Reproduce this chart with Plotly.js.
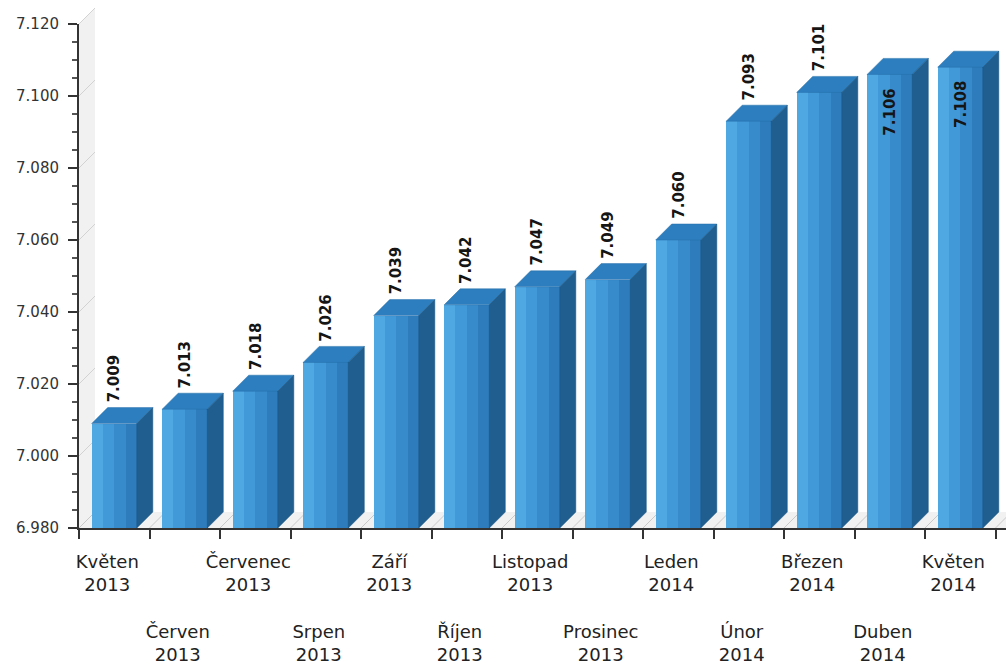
<!DOCTYPE html>
<html>
<head>
<meta charset="utf-8">
<script src="https://cdn.plot.ly/plotly-3.0.1.min.js"></script>
<style>
  html, body { margin: 0; padding: 0; background: #ffffff; }
  #chart { width: 1006px; height: 664px; }
</style>
</head>
<body>
<div id="chart"></div>
<script>
// ---- data ----
const categories = ['Květen 2013', 'Červen 2013', 'Červenec 2013', 'Srpen 2013', 'Září 2013', 'Říjen 2013',
  'Listopad 2013', 'Prosinec 2013', 'Leden 2014', 'Únor 2014', 'Březen 2014', 'Duben 2014', 'Květen 2014'];
const monthNames = ['Květen', 'Červen', 'Červenec', 'Srpen', 'Září', 'Říjen',
  'Listopad', 'Prosinec', 'Leden', 'Únor', 'Březen', 'Duben', 'Květen'];
const yearNames = ['2013', '2013', '2013', '2013', '2013', '2013', '2013', '2013',
  '2014', '2014', '2014', '2014', '2014'];
const values = [7.009, 7.013, 7.018, 7.026, 7.039, 7.042, 7.047, 7.049, 7.060, 7.093, 7.101, 7.106, 7.108];
const yMin = 6.98, yMax = 7.12, yStep = 0.02, yMinorStep = 0.005;

// ---- geometry ----
const W = 1006, H = 664, L = 79, T = 8, B = 136;
const plotW = W - L, plotH = H - T - B;
const catPx = 70.5, depth = 16;
const frontH = plotH - depth;
const pxPerY = frontH / (yMax - yMin);
const dx = depth / catPx, dy = depth / pxPerY;
const barW = 0.64;

const xs = categories.map((_, i) => i);
const tickText = xs.map(i => (i % 2 === 0 ? '' : ' <br> <br> <br>') + monthNames[i] + '<br>' + yearNames[i]);
const boundaries = xs.map(i => i - 0.5).concat([xs.length - 0.5]);

// front face strips (simulated horizontal gradient)
const strips = [
  { off: -barW / 2, color: '#4fa8e2' },
  { off: -barW / 4, color: '#4299d8' },
  { off: 0, color: '#388bcb' },
  { off: barW / 4, color: '#2e7cbc' }
];
const traces = strips.map(s => ({
  type: 'bar', x: xs, y: values, xaxis: 'x2', yaxis: 'y2',
  width: barW / 4 + 0.004, offset: s.off,
  marker: { color: s.color, line: { width: 0 } },
  hoverinfo: 'skip', showlegend: false
}));

// ---- shapes ----
const shapes = [];
const PX = px => (px - L) / plotW;
const PY = py => (H - B - py) / plotH;
const yFront = v => (H - B) - (v - yMin) * pxPerY;

// left wall
shapes.push({
  type: 'path', xref: 'paper', yref: 'paper', layer: 'below',
  path: `M ${PX(L)},${PY(H - B)} L ${PX(L)},${PY(yFront(yMax))} L ${PX(L + depth)},${PY(yFront(yMax) - depth)} L ${PX(L + depth)},${PY(H - B - depth)} Z`,
  fillcolor: '#f1f1f1', line: { width: 0 }
});
// floor
shapes.push({
  type: 'path', xref: 'paper', yref: 'paper', layer: 'below',
  path: `M ${PX(L)},${PY(H - B)} L ${PX(W)},${PY(H - B)} L ${PX(W)},${PY(H - B - depth)} L ${PX(L + depth)},${PY(H - B - depth)} Z`,
  fillcolor: '#f1f1f1', line: { width: 0 }
});
// left wall diagonals
for (let t = yMin; t <= yMax + 1e-9; t += yStep) {
  const py = yFront(t);
  shapes.push({
    type: 'line', xref: 'paper', yref: 'paper', layer: 'below',
    x0: PX(L), y0: PY(py), x1: PX(L + depth), y1: PY(py - depth),
    line: { color: '#d2d2d2', width: 1 }
  });
}
// floor diagonals
boundaries.forEach(b => {
  const bx = L + (b + 0.5) * catPx;
  shapes.push({
    type: 'line', xref: 'paper', yref: 'paper', layer: 'below',
    x0: PX(bx), y0: PY(H - B), x1: PX(bx + depth), y1: PY(H - B - depth),
    line: { color: '#c9c9c9', width: 1 }
  });
});
// bar top and side faces
values.forEach((v, i) => {
  const x0 = i - barW / 2, x1 = i + barW / 2;
  shapes.push({
    type: 'path', xref: 'x2', yref: 'y2', layer: 'above',
    path: `M ${x0},${v} L ${x1},${v} L ${x1 + dx},${v + dy} L ${x0 + dx},${v + dy} Z`,
    fillcolor: '#2d7ebe', line: { color: '#276fa8', width: 0.5 }
  });
  shapes.push({
    type: 'path', xref: 'x2', yref: 'y2', layer: 'above',
    path: `M ${x1},${yMin} L ${x1},${v} L ${x1 + dx},${v + dy} L ${x1 + dx},${yMin + dy} Z`,
    fillcolor: '#1f5e8f', line: { color: '#1b5480', width: 0.5 }
  });
});

// ---- value labels ----
const labelLen = 52 / pxPerY;
const annotations = values.map((v, i) => {
  const inside = v + dy + labelLen > yMax;
  return {
    x: i, y: inside ? v : v + dy, xref: 'x2', yref: 'y2',
    text: v.toFixed(3), textangle: -90, showarrow: false,
    xanchor: 'center', yanchor: inside ? 'top' : 'bottom',
    yshift: inside ? -12 : 3,
    font: { family: 'DejaVu Sans', size: 15, color: '#151515', weight: 'bold' }
  };
});

const layout = {
  width: W, height: H,
  margin: { l: L, r: 0, t: T, b: B, pad: 0 },
  paper_bgcolor: '#ffffff', plot_bgcolor: 'rgba(0,0,0,0)',
  barmode: 'overlay', bargap: 0, showlegend: false,
  font: { family: 'DejaVu Sans', color: '#333' },
  // back wall
  xaxis: {
    domain: [depth / plotW, 1], anchor: 'y',
    range: [-0.5, -0.5 + (plotW - depth) / catPx],
    tickmode: 'linear', tick0: -0.5, dtick: 1,
    showgrid: true, gridcolor: '#d6d6d6', gridwidth: 1,
    showticklabels: false, ticks: '', zeroline: false, showline: false, fixedrange: true
  },
  yaxis: {
    domain: [depth / plotH, 1], anchor: 'x',
    range: [yMin, yMin + (plotH - depth) / pxPerY],
    tickmode: 'linear', tick0: yMin, dtick: yStep,
    showgrid: true, gridcolor: '#cfcfcf', gridwidth: 1,
    minor: { tickmode: 'linear', tick0: yMin, dtick: yMinorStep, showgrid: true, gridcolor: '#ebebeb', ticks: '' },
    showticklabels: false, ticks: '', zeroline: false, showline: false, fixedrange: true
  },
  // front plane
  xaxis2: {
    domain: [0, 1], anchor: 'y2',
    range: [-0.5, -0.5 + plotW / catPx],
    tickmode: 'array', tickvals: xs, ticktext: tickText, tickangle: 0,
    ticks: 'outside', ticklen: 16, tickcolor: 'rgba(0,0,0,0)',
    ticklabelshift: -7,
    tickfont: { family: 'DejaVu Sans', size: 18, color: '#222' },
    minor: { tickmode: 'array', tickvals: boundaries, ticks: 'outside', ticklen: 9, tickwidth: 2, tickcolor: '#333', showgrid: false },
    showline: true, linecolor: '#333', linewidth: 2,
    showgrid: false, zeroline: false, fixedrange: true
  },
  yaxis2: {
    domain: [0, frontH / plotH], anchor: 'x2',
    range: [yMin, yMax],
    tickmode: 'linear', tick0: yMin, dtick: yStep, tickformat: '.3f',
    ticks: 'outside', ticklen: 9, tickwidth: 2, tickcolor: '#333',
    ticklabelstandoff: 6,
    tickfont: { family: 'DejaVu Sans', size: 15, color: '#333' },
    minor: { tickmode: 'linear', tick0: yMin, dtick: yMinorStep, ticks: 'outside', ticklen: 5, tickwidth: 1.5, tickcolor: '#555', showgrid: false },
    showline: true, linecolor: '#333', linewidth: 2,
    showgrid: false, zeroline: false, fixedrange: true
  },
  shapes: shapes,
  annotations: annotations
};

Plotly.newPlot('chart', traces, layout, { displayModeBar: false, staticPlot: true });
</script>
</body>
</html>
